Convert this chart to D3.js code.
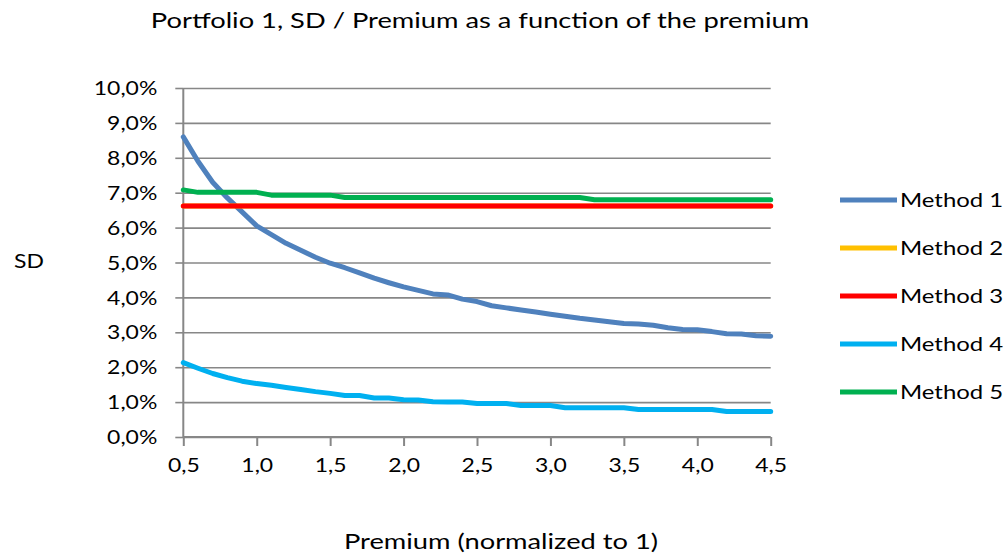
<!DOCTYPE html>
<html>
<head>
<meta charset="utf-8">
<script src="https://cdn.jsdelivr.net/npm/d3@7"></script>
<style>
  html, body { margin: 0; padding: 0; background: #fff; }
  svg { display: block; }
  text { font-family: Lato, "Open Sans", sans-serif; fill: #000; }
</style>
</head>
<body>
<svg id="chart" width="1007" height="558"></svg>
<script>
// Premium levels (normalized to 1)
const premium = [0.5, 0.6, 0.7, 0.8, 0.9, 1.0, 1.1, 1.2, 1.3, 1.4, 1.5, 1.6, 1.7, 1.8, 1.9, 2.0,
  2.1, 2.2, 2.3, 2.4, 2.5, 2.6, 2.7, 2.8, 2.9, 3.0, 3.1, 3.2, 3.3, 3.4, 3.5, 3.6, 3.7, 3.8, 3.9, 4.0,
  4.1, 4.2, 4.3, 4.4, 4.5];

// SD / Premium in percent, one array per method
const method1 = [8.60, 7.90, 7.30, 6.85, 6.45, 6.05, 5.80, 5.55, 5.35, 5.15, 4.98, 4.85, 4.70, 4.55, 4.42, 4.30,
  4.20, 4.10, 4.07, 3.95, 3.88, 3.76, 3.70, 3.64, 3.58, 3.52, 3.46, 3.40, 3.35, 3.30, 3.25, 3.24, 3.20, 3.13, 3.08, 3.07,
  3.02, 2.96, 2.95, 2.90, 2.89];
const method2 = [6.62, 6.62, 6.62, 6.62, 6.62, 6.62, 6.62, 6.62, 6.62, 6.62, 6.62, 6.62, 6.62, 6.62, 6.62, 6.62,
  6.62, 6.62, 6.62, 6.62, 6.62, 6.62, 6.62, 6.62, 6.62, 6.62, 6.62, 6.62, 6.62, 6.62, 6.62, 6.62, 6.62, 6.62, 6.62, 6.62,
  6.62, 6.62, 6.62, 6.62, 6.62];
const method3 = [6.62, 6.62, 6.62, 6.62, 6.62, 6.62, 6.62, 6.62, 6.62, 6.62, 6.62, 6.62, 6.62, 6.62, 6.62, 6.62,
  6.62, 6.62, 6.62, 6.62, 6.62, 6.62, 6.62, 6.62, 6.62, 6.62, 6.62, 6.62, 6.62, 6.62, 6.62, 6.62, 6.62, 6.62, 6.62, 6.62,
  6.62, 6.62, 6.62, 6.62, 6.62];
const method4 = [2.13, 1.97, 1.82, 1.70, 1.60, 1.53, 1.48, 1.42, 1.36, 1.30, 1.25, 1.19, 1.19, 1.12, 1.12, 1.07,
  1.06, 1.01, 1.00, 1.00, 0.96, 0.96, 0.96, 0.90, 0.90, 0.90, 0.84, 0.84, 0.84, 0.84, 0.84, 0.79, 0.79, 0.79, 0.79, 0.79,
  0.79, 0.73, 0.73, 0.73, 0.73];
const method5 = [7.08, 7.01, 7.01, 7.01, 7.01, 7.01, 6.93, 6.93, 6.93, 6.93, 6.93, 6.86, 6.86, 6.86, 6.86, 6.86,
  6.86, 6.86, 6.86, 6.86, 6.86, 6.86, 6.86, 6.86, 6.86, 6.86, 6.86, 6.86, 6.80, 6.80, 6.80, 6.80, 6.80, 6.80, 6.80, 6.80,
  6.80, 6.80, 6.80, 6.80, 6.80];

const seriesNames = ["Method 1", "Method 2", "Method 3", "Method 4", "Method 5"];
const seriesValues = [method1, method2, method3, method4, method5];
const seriesColors = ["#4F81BD", "#FFC000", "#FF0000", "#00B0F0", "#00B050"];

const xTicks = [0.5, 1.0, 1.5, 2.0, 2.5, 3.0, 3.5, 4.0, 4.5];
const yTicks = [0, 1, 2, 3, 4, 5, 6, 7, 8, 9, 10];

const titleText = "Portfolio 1, SD / Premium as a function of the premium";
const xTitle = "Premium (normalized to 1)";
const yTitle = "SD";

const svg = d3.select("#chart");
const plot = { left: 183.3, right: 770.7, top: 88, bottom: 437 };
const x = d3.scaleLinear().domain([0.5, 4.5]).range([plot.left, plot.right]);
const y = d3.scaleLinear().domain([0, 10]).range([plot.bottom, plot.top]);

const fmtDec = v => v.toFixed(1).replace(".", ",");
const GRID = "#878787";
const STRETCH = 1.24; // glyphs are drawn horizontally widened

function widen(sel) {
  sel.each(function () {
    const w = this.getComputedTextLength();
    d3.select(this).attr("textLength", w * STRETCH).attr("lengthAdjust", "spacingAndGlyphs");
  });
}

// Horizontal gridlines with left tick marks
const yAxis = d3.axisLeft(y).tickValues(yTicks).tickSize(8).tickFormat(d => fmtDec(d) + "%");
const gy = svg.append("g").attr("transform", `translate(${plot.left},0)`).call(yAxis);
gy.select(".domain").remove();
gy.selectAll(".tick line").attr("stroke", GRID).attr("stroke-width", 1.6);
gy.selectAll(".tick").append("line")
  .attr("x1", 0).attr("x2", plot.right - plot.left)
  .attr("stroke", GRID).attr("stroke-width", 1.6);
gy.selectAll(".tick text")
  .attr("x", -26).attr("dy", "0.36em")
  .style("font-size", "18.5px").style("font-family", "Lato, sans-serif").attr("fill", "#000")
  .call(widen);

// Vertical axis line
svg.append("line")
  .attr("x1", plot.left).attr("x2", plot.left)
  .attr("y1", plot.top).attr("y2", plot.bottom)
  .attr("stroke", GRID).attr("stroke-width", 2);

// Horizontal axis with downward tick marks
const xAxis = d3.axisBottom(x).tickValues(xTicks).tickSize(9).tickFormat(fmtDec);
const gx = svg.append("g").attr("transform", `translate(0,${plot.bottom})`).call(xAxis);
gx.select(".domain").attr("stroke", GRID).attr("stroke-width", 2).attr("d", `M${plot.left},0H${plot.right}`);
gx.selectAll(".tick line").attr("stroke", GRID).attr("stroke-width", 2);
gx.selectAll(".tick text")
  .attr("y", 22).attr("dy", "0.71em")
  .style("font-size", "18.5px").style("font-family", "Lato, sans-serif").attr("fill", "#000")
  .call(widen);

// Series lines
const line = d3.line()
  .x((d, i) => x(premium[i]))
  .y(d => y(d));

svg.append("g").selectAll("path")
  .data(seriesValues)
  .join("path")
  .attr("d", line)
  .attr("fill", "none")
  .attr("stroke", (d, i) => seriesColors[i])
  .attr("stroke-width", 5)
  .attr("stroke-linejoin", "round")
  .attr("stroke-linecap", "round");

// Legend
const legend = svg.append("g");
const legendY = d3.scalePoint().domain(seriesNames).range([200, 392]);
const items = legend.selectAll("g").data(seriesNames).join("g")
  .attr("transform", d => `translate(0,${legendY(d)})`);
items.append("line")
  .attr("x1", 840).attr("x2", 897)
  .attr("stroke", (d, i) => seriesColors[i])
  .attr("stroke-width", 5);
items.append("text")
  .attr("x", 900).attr("dy", "0.36em")
  .style("font-size", "19.3px")
  .text(d => d)
  .call(widen);

// Titles
svg.append("text")
  .attr("x", 480).attr("y", 28)
  .attr("text-anchor", "middle")
  .style("font-size", "22px")
  .text(titleText)
  .call(widen);

svg.append("text")
  .attr("x", 501).attr("y", 549)
  .attr("text-anchor", "middle")
  .style("font-size", "22px")
  .text(xTitle)
  .call(widen);

svg.append("text")
  .attr("x", 29).attr("y", 261)
  .attr("text-anchor", "middle")
  .attr("dy", "0.36em")
  .style("font-size", "18.5px")
  .text(yTitle)
  .call(widen);
</script>
</body>
</html>
